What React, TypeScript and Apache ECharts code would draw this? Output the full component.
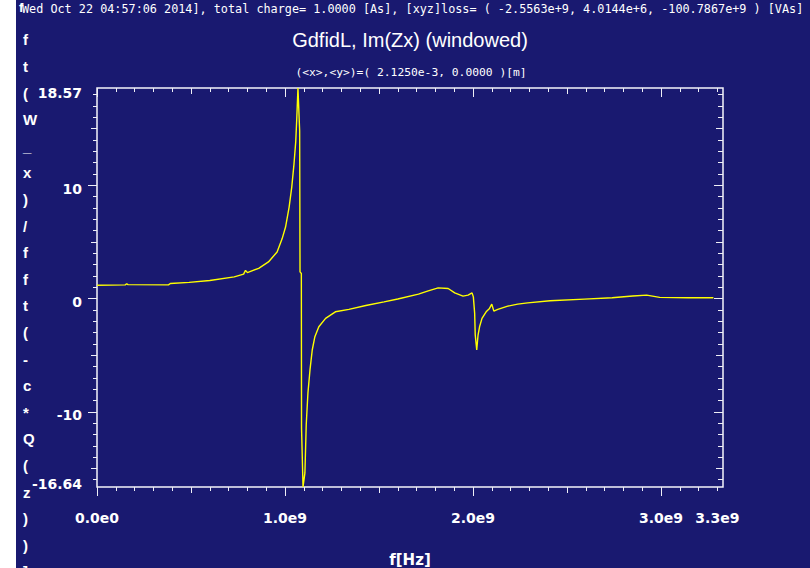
import React, { useEffect, useRef } from "react";
import * as echarts from "echarts";

// Frequency (GHz) and windowed Im(Zx) samples of the transverse impedance
const FREQ_GHZ = [
  0.0, 0.15, 0.158, 0.165, 0.38, 0.39, 0.49, 0.6, 0.73, 0.78, 0.79, 0.8,
  0.86, 0.912, 0.958, 0.985, 1.003, 1.022, 1.036, 1.048, 1.057, 1.063, 1.069,
  1.078, 1.08, 1.087, 1.088, 1.096, 1.106, 1.113, 1.122, 1.133, 1.145, 1.159,
  1.18, 1.216, 1.268, 1.34, 1.43, 1.527, 1.6, 1.71, 1.762, 1.815, 1.868,
  1.903, 1.947, 1.974, 1.995, 2.002, 2.009, 2.012, 2.02, 2.027, 2.035, 2.048,
  2.07, 2.088, 2.1, 2.111, 2.132, 2.185, 2.238, 2.291, 2.41, 2.593, 2.74,
  2.85, 2.924, 2.993, 3.145, 3.279,
];
const IM_ZX = [
  1.17, 1.2, 1.3, 1.22, 1.2, 1.32, 1.42, 1.58, 1.9, 2.15, 2.48, 2.28,
  2.66, 3.22, 4.1, 5.28, 6.3, 8.06, 9.82, 11.88, 13.79, 15.99, 18.57,
  14.8, 2.34, 2.2, -11.44, -16.64, -15.4, -11.15, -8.36, -6.31, -4.55, -3.38,
  -2.5, -1.76, -1.18, -0.97, -0.62, -0.3, -0.05, 0.38, 0.67, 0.93, 0.88,
  0.49, 0.2, 0.29, 0.49, 0.14, -1.32, -3.23, -4.55, -3.23, -2.5, -1.76,
  -1.18, -0.88, -0.5, -1.12, -0.97, -0.68, -0.5, -0.39, -0.21, -0.06, 0.06,
  0.21, 0.29, 0.09, 0.06, 0.06,
];

// Axis extents and labelled ticks
const X_MAX_HZ = 3.33e9;
const Y_MIN = -16.64;
const Y_MAX = 18.57;
const X_LABEL_VALUES = [0, 1e9, 2e9, 3e9, 3.3e9];
const Y_LABEL_VALUES = [Y_MIN, -10, 0, 10, Y_MAX];

const HEADER =
  "Wed Oct 22 04:57:06 2014], total charge= 1.0000 [As], [xyz]loss= ( -2.5563e+9, 4.0144e+6, -100.7867e+9 ) [VAs]";
const TITLE = "GdfidL, Im(Zx) (windowed)";
const SUBTITLE = "(<x>,<y>)=( 2.1250e-3, 0.0000 )[m]";
const Y_NAME_CHARS = ["f", "t", "(", "W", "_", "x", ")", "/", "f", "f", "t", "(", "-", "c", "*", "Q", "(", "z", ")", ")", "]"];
const X_NAME = "f[Hz]";

const BG = "#191970";
const FG = "#ffffff";
const SANS = "'Liberation Sans', Arial, sans-serif";
const WIDE = "'DejaVu Sans', 'Liberation Sans', sans-serif";
const MONO = "'DejaVu Sans Mono', 'Liberation Mono', monospace";

function range(start: number, end: number, step: number): number[] {
  const out: number[] = [];
  const n = Math.round((end - start) / step);
  for (let i = 0; i <= n; i++) out.push(+(start + i * step).toFixed(6));
  return out;
}

// tick sets: minor / medium / major
const X_MINOR = range(0, 3.3, 0.1).map((v) => v * 1e9);
const X_MEDIUM = [0.5e9, 1.5e9, 2.5e9];
const X_MAJOR = [0, 1e9, 2e9, 3e9];
const Y_MINOR = range(-16, 18, 1);
const Y_MEDIUM = [-15, -5, 5, 15];
const Y_MAJOR = [-10, 0, 10];

const tickLine = { color: "#eeeef6", width: 1 };
const labelFont = { color: FG, fontFamily: WIDE, fontSize: 14, fontWeight: "bold" as const };

function xAxisDef(position: "top" | "bottom", ticks: number[], length: number, inside: boolean, labelled = false) {
  return {
    type: "value",
    gridIndex: 0,
    position,
    min: 0,
    max: X_MAX_HZ,
    axisLine: { show: false, onZero: false },
    splitLine: { show: false },
    axisTick: { show: true, inside, length, customValues: ticks, lineStyle: tickLine },
    axisLabel: labelled
      ? {
          show: true,
          customValues: X_LABEL_VALUES,
          margin: 24,
          ...labelFont,
          formatter: (v: number) => (v === 0 ? "0.0e0" : (v / 1e9).toFixed(1) + "e9"),
        }
      : { show: false },
    ...(labelled
      ? {
          name: X_NAME,
          nameLocation: "middle",
          nameGap: 65,
          nameTextStyle: { color: FG, fontFamily: WIDE, fontSize: 15, fontWeight: "bold" },
        }
      : {}),
  };
}

function yAxisDef(position: "left" | "right", ticks: number[], length: number, inside: boolean, labelled = false) {
  return {
    type: "value",
    gridIndex: 0,
    position,
    min: Y_MIN,
    max: Y_MAX,
    axisLine: { show: false, onZero: false },
    splitLine: { show: false },
    axisTick: { show: true, inside, length, customValues: ticks, lineStyle: tickLine },
    axisLabel: labelled
      ? {
          show: true,
          customValues: Y_LABEL_VALUES,
          margin: 15,
          ...labelFont,
          // labels sit a little below their ticks; the end labels are nudged inward
          formatter: (v: number) => {
            const key = v === Y_MAX ? "hi" : v === Y_MIN ? "lo" : "mid";
            return `{${key}|${v}}`;
          },
          rich: {
            hi: { ...labelFont, padding: [9, 0, 0, 0] },
            mid: { ...labelFont, padding: [7, 0, 0, 0] },
            lo: { ...labelFont, padding: [0, 0, 7, 0] },
          },
        }
      : { show: false },
  };
}

export default function App() {
  const ref = useRef<HTMLDivElement>(null);

  useEffect(() => {
    if (!ref.current) return;
    const chart = echarts.init(ref.current, null, { renderer: "svg" });
    const points = FREQ_GHZ.map((f, i) => [f * 1e9, IM_ZX[i]]);

    chart.setOption({
      animation: false,
      backgroundColor: "#ffffff",
      grid: {
        left: 97,
        top: 88,
        width: 626,
        height: 399,
        show: true,
        outerBoundsMode: "none",
        containLabel: false,
        borderColor: "#f4f4fa",
        borderWidth: 1.5,
        backgroundColor: "transparent",
      },
      xAxis: [
        xAxisDef("bottom", X_MINOR, 4, false, true),
        xAxisDef("bottom", X_MEDIUM, 6, false),
        xAxisDef("bottom", X_MAJOR, 9, false),
        xAxisDef("top", X_MINOR, 4, true),
        xAxisDef("top", X_MEDIUM, 6, true),
        xAxisDef("top", X_MAJOR, 9, true),
      ],
      yAxis: [
        yAxisDef("left", Y_MINOR, 4, false, true),
        yAxisDef("left", Y_MEDIUM, 6, false),
        yAxisDef("left", Y_MAJOR, 9, false),
        yAxisDef("right", Y_MINOR, 5, true),
        yAxisDef("right", Y_MEDIUM, 7, true),
        yAxisDef("right", Y_MAJOR, 9, true),
      ],
      graphic: [
        {
          type: "rect",
          z: -100,
          silent: true,
          shape: { x: 16, y: 0, width: 794, height: 568 },
          style: { fill: BG },
        },
        {
          type: "text",
          x: 22,
          y: 9,
          style: { text: HEADER, fill: FG, font: `11.8px ${MONO}`, verticalAlign: "middle", align: "left" },
        },
        {
          type: "text",
          x: 19,
          y: 7,
          style: { text: "f", fill: FG, font: `bold 13px ${SANS}`, verticalAlign: "middle", align: "left" },
        },
        {
          type: "text",
          x: 23,
          y: 40 - 13.3,
          style: {
            text: Y_NAME_CHARS.join("\n"),
            fill: FG,
            font: `bold 15px ${SANS}`,
            lineHeight: 26.6,
            verticalAlign: "top",
            align: "left",
          },
        },
        {
          type: "text",
          x: 410,
          y: 40,
          style: { text: TITLE, fill: FG, font: `20px ${SANS}`, align: "center", verticalAlign: "middle" },
        },
        {
          type: "text",
          x: 411,
          y: 72,
          style: { text: SUBTITLE, fill: FG, font: `11.3px ${MONO}`, align: "center", verticalAlign: "middle" },
        },
      ],
      series: [
        {
          type: "line",
          xAxisIndex: 0,
          yAxisIndex: 0,
          data: points,
          showSymbol: false,
          symbol: "none",
          lineStyle: { color: "#ffff00", width: 1.4 },
          clip: true,
          z: 3,
        },
      ],
    });

    return () => chart.dispose();
  }, []);

  return (
    <div
      ref={ref}
      style={{ position: "fixed", left: 0, top: 0, width: 810, height: 568 }}
    />
  );
}
